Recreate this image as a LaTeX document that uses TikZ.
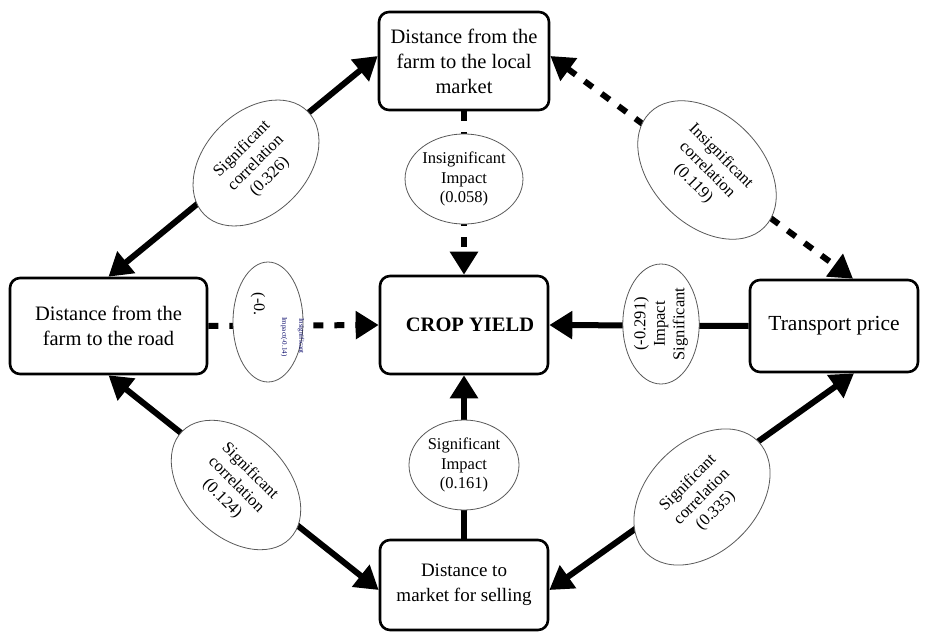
\documentclass[tikz,border=0pt]{standalone}
\usepackage{fontspec}
\setmainfont{Liberation Serif}
\usetikzlibrary{shapes.geometric,arrows.meta}
\begin{document}
\begin{tikzpicture}[x=1pt,y=-1pt,
  box/.style={draw,line width=2.6pt,rounded corners=10pt,fill=white,align=center,inner sep=2pt,font=\fontsize{20.5}{25}\selectfont},
  ell/.style={ellipse,draw=black!65,line width=0.8pt,fill=white,align=center,inner sep=0pt,font=\fontsize{16.5}{19.5}\selectfont},
  con/.style={line width=6pt,{Triangle[length=23pt,width=27pt]}-{Triangle[length=23pt,width=27pt]}},
  onehead/.style={line width=6pt,-{Triangle[length=23pt,width=27pt]}},
  dsh/.style={dash pattern=on 10pt off 11pt}]
\useasboundingbox (0,0) rectangle (934,637);
% boxes
\node[box,minimum width=170,minimum height=98] (top) at (464,61) {Distance from the\\farm to the local\\market};
\node[box,minimum width=197,minimum height=96] (left) at (108.5,326) {Distance from the\\farm to the road};
\node[box,minimum width=168,minimum height=98,font=\fontsize{20.5}{25}\selectfont\bfseries] (crop) at (464,325) {\hspace*{12pt}CROP YIELD};
\node[box,minimum width=168,minimum height=92,font=\fontsize{21.5}{25}\selectfont] (right) at (834,326) {Transport price};
\node[box,minimum width=168,minimum height=90,font=\fontsize{19}{25}\selectfont] (bottom) at (464,585) {Distance to\\market for selling};
% connectors
\draw[con] ([yshift=5pt]top.west) -- (left.north);
\draw[con,dsh] ([yshift=5pt]top.east) -- ([xshift=19pt]right.north);
\draw[con] (left.south) -- ([yshift=-5pt]bottom.west);
\draw[con] ([yshift=-5pt]bottom.east) -- ([xshift=20pt]right.south);
\draw[onehead,dsh] (top.south) -- (crop.north);
\draw[onehead,dsh] (left.east) -- (crop.west);
\draw[onehead] (right.west) -- (crop.east);
\draw[onehead] (bottom.north) -- (crop.south);
% ellipses
\node[ell,minimum width=110,minimum height=90] (e1) at (464,179) {Insignificant\\Impact\\(0.058)};
\node[ell,minimum width=110,minimum height=90] (e2) at (464,465) {Significant\\Impact\\(0.161)};
\node[ell,minimum width=146,minimum height=102,rotate=45] (e3) at (256,163) {Significant\\correlation\\(0.326)};
\node[ell,minimum width=162,minimum height=110,rotate=-45] (e4) at (707,170) {Insignificant\\correlation\\(0.119)};
\node[ell,minimum width=152,minimum height=102,rotate=-45] (e5) at (236,485) {Significant\\correlation\\(0.124)};
\node[ell,minimum width=158,minimum height=110,rotate=45] (e6) at (702,497) {Significant\\correlation\\(0.335)};
\node[ell,minimum width=120,minimum height=70,rotate=90] (e7) at (661,324) {(-0.291)\\Impact\\Significant};
\node[ell,minimum width=120,minimum height=70,rotate=-90] (e8) at (268,322) {};
\node[rotate=-90,font=\fontsize{16}{19}\selectfont,inner sep=0pt] (t8a) at (258,304) {(-0.};
\node[rotate=-90,font=\fontsize{7}{8}\selectfont,inner sep=0pt,text=blue!40!black] (t8b) at (284,337) {Impact(-0.14)};
\node[rotate=-90,font=\fontsize{7}{8}\selectfont,inner sep=0pt,text=blue!40!black] (t8c) at (301,336) {Insignificant};
\end{tikzpicture}
\end{document}
